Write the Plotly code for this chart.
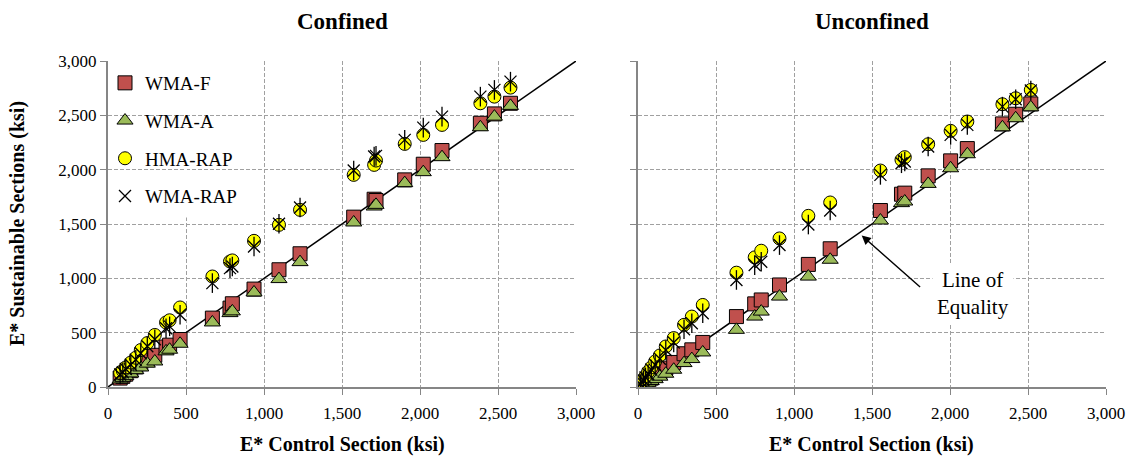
import plotly.graph_objects as go

# Dynamic modulus |E*| (ksi): control section vs sustainable sections
conf_control = [78, 95, 114, 146, 178, 210, 252, 300, 372, 395, 462, 669, 782, 797, 936,
                1096, 1231, 1575, 1706, 1718, 1902, 2021, 2141, 2387, 2477, 2580]
conf_wma_f = [82, 98, 118, 150, 185, 215, 250, 292, 368, 385, 437, 634, 726, 766, 901,
              1079, 1226, 1563, 1728, 1716, 1906, 2050, 2176, 2427, 2513, 2611]
conf_wma_a = [70, 84, 100, 125, 155, 180, 215, 235, 328, 343, 398, 594, 680, 696, 870,
              993, 1149, 1514, 1661, 1676, 1876, 1977, 2115, 2390, 2488, 2587]
conf_hma_rap = [130, 150, 180, 225, 269, 340, 404, 479, 594, 614, 732, 1017, 1155, 1165, 1345,
                1492, 1630, 1952, 2044, 2084, 2237, 2320, 2412, 2611, 2672, 2755]
conf_wma_rap = [115, 135, 165, 205, 250, 310, 375, 440, 540, 558, 665, 956, 1094, 1109, 1293,
                1502, 1652, 1992, 2121, 2127, 2274, 2387, 2488, 2672, 2734, 2810]

unconf_control = [15, 25, 35, 48, 65, 85, 110, 140, 178, 229, 295, 345, 415, 631, 748, 790,
                  907, 1092, 1232, 1554, 1689, 1710, 1860, 2004, 2111, 2336, 2421, 2518]
unconf_wma_f = [14, 24, 33, 46, 62, 82, 108, 138, 174, 226, 306, 342, 410, 648, 765, 801,
                939, 1128, 1272, 1624, 1774, 1784, 1943, 2081, 2194, 2421, 2510, 2605]
unconf_wma_a = [9, 15, 22, 30, 40, 55, 72, 95, 122, 159, 220, 257, 318, 526, 648, 694,
                832, 1016, 1171, 1532, 1692, 1707, 1869, 2013, 2142, 2390, 2473, 2574]
unconf_hma_rap = [30, 50, 72, 100, 140, 180, 235, 290, 373, 450, 572, 648, 755, 1052, 1193, 1254,
                  1367, 1575, 1698, 1992, 2090, 2115, 2234, 2357, 2443, 2602, 2657, 2734]
unconf_wma_rap = [27, 44, 62, 88, 120, 160, 205, 260, 340, 410, 532, 587, 679, 985, 1122, 1153,
                  1306, 1495, 1624, 1952, 2059, 2075, 2213, 2320, 2412, 2580, 2648, 2728]

equality = [0, 3000]
axis_ticks = [0, 500, 1000, 1500, 2000, 2500, 3000]
panel_titles = ["Confined", "Unconfined"]
x_title = "E* Control Section (ksi)"
y_title = "E* Sustainable Sections (ksi)"

SERIF = "Times New Roman, Liberation Serif, DejaVu Serif, serif"
W, H = 1135, 459

fig = go.Figure()

panels = [
    ("x", "y", conf_control, conf_wma_f, conf_wma_a, conf_hma_rap, conf_wma_rap, True),
    ("x2", "y2", unconf_control, unconf_wma_f, unconf_wma_a, unconf_hma_rap, unconf_wma_rap, False),
]

for xa, ya, ctrl, wf, wa, hr, wr, legend in panels:
    fig.add_trace(go.Scatter(x=equality, y=equality, mode="lines", xaxis=xa, yaxis=ya,
                             line=dict(color="black", width=1.5), showlegend=False,
                             hoverinfo="skip"))
    fig.add_trace(go.Scatter(x=ctrl, y=wf, mode="markers", name="WMA-F", xaxis=xa, yaxis=ya,
                             legendgroup="f", showlegend=legend,
                             marker=dict(symbol="square", size=14, color="#C0504D",
                                         line=dict(color="black", width=1))))
    fig.add_trace(go.Scatter(x=ctrl, y=wa, mode="markers", name="WMA-A", xaxis=xa, yaxis=ya,
                             legendgroup="a", showlegend=legend,
                             marker=dict(symbol="triangle-up", size=14, color="#9BBB59",
                                         line=dict(color="black", width=1))))
    fig.add_trace(go.Scatter(x=ctrl, y=hr, mode="markers", name="HMA-RAP", xaxis=xa, yaxis=ya,
                             legendgroup="h", showlegend=legend,
                             marker=dict(symbol="circle", size=13, color="#FFFF00",
                                         line=dict(color="black", width=1))))
    fig.add_trace(go.Scatter(x=ctrl, y=wr, mode="markers", name="WMA-RAP", xaxis=xa, yaxis=ya,
                             legendgroup="r", showlegend=legend,
                             marker=dict(symbol="x-thin-open", size=12, color="black",
                                         line=dict(color="black", width=1.3))))
    fig.add_trace(go.Scatter(x=ctrl, y=wr, mode="markers", name="WMA-RAP", xaxis=xa, yaxis=ya,
                             legendgroup="r", showlegend=False,
                             marker=dict(symbol="line-ns-open", size=14, color="black",
                                         line=dict(color="black", width=1.3))))

y_dom = [(H - 387) / H, (H - 61) / H]
x_dom_left = [108 / W, 576 / W]
x_dom_right = [638 / W, 1106 / W]

axis_common = dict(
    range=[0, 3000], tickvals=axis_ticks, tickformat=",d", automargin=False,
    showline=True, linecolor="#868686", linewidth=2,
    ticks="outside", ticklen=6, tickcolor="#868686", tickwidth=1,
    showgrid=True, gridcolor="#A0A0A0", gridwidth=1, griddash="4px,2px",
    zeroline=False, tickfont=dict(family=SERIF, size=17, color="black"),
    fixedrange=True,
)

fig.update_layout(
    width=W, height=H,
    margin=dict(l=0, r=0, t=0, b=0),
    paper_bgcolor="white", plot_bgcolor="white",
    font=dict(family=SERIF, color="black"),
    xaxis=dict(domain=x_dom_left, anchor="y", ticklabelstandoff=4, **axis_common),
    yaxis=dict(domain=y_dom, anchor="x", **axis_common),
    xaxis2=dict(domain=x_dom_right, anchor="y2", ticklabelstandoff=4, **axis_common),
    yaxis2=dict(domain=y_dom, anchor="x2", showticklabels=False, **axis_common),
    legend=dict(x=105 / W, y=1 - 64 / H, xanchor="left", yanchor="top",
                bgcolor="rgba(0,0,0,0)", traceorder="grouped", tracegroupgap=10,
                font=dict(family=SERIF, size=19, color="black")),
    showlegend=True,
)

# the legend box blanks the upper part of the 500 ksi gridline
fig.add_shape(type="line", xref="x", yref="y", x0=500, x1=500, y0=1560, y1=3000,
              line=dict(color="white", width=2), layer="between")

ann = []
for title, dom in zip(panel_titles, [x_dom_left, x_dom_right]):
    cx = (dom[0] + dom[1]) / 2
    ann.append(dict(text=f"<b>{title}</b>", x=cx, y=1 - 22 / H, xref="paper", yref="paper",
                    xanchor="center", yanchor="middle", showarrow=False,
                    font=dict(family=SERIF, size=23, color="black")))
    ann.append(dict(text=f"<b>{x_title}</b>", x=cx, y=1 - 444 / H, xref="paper", yref="paper",
                    xanchor="center", yanchor="middle", showarrow=False,
                    font=dict(family=SERIF, size=20, color="black")))
ann.append(dict(text=f"<b>{y_title}</b>", x=17 / W, y=1 - 224 / H, xref="paper", yref="paper",
                xanchor="center", yanchor="middle", textangle=-90, showarrow=False,
                font=dict(family=SERIF, size=20, color="black")))
# line of equality label with arrow
ann.append(dict(text="Line of<br>Equality", x=2146, y=862, xref="x2", yref="y2",
                xanchor="center", yanchor="middle", showarrow=False, bgcolor="white",
                borderpad=4, font=dict(family=SERIF, size=21, color="black")))
ann.append(dict(text="", x=1434, y=1394, xref="x2", yref="y2", ax=1818, ay=908,
                axref="x2", ayref="y2", showarrow=True, arrowhead=2, arrowsize=1.3,
                arrowwidth=1.4, arrowcolor="black"))
fig.update_layout(annotations=ann)

fig.write_html("out.html")
